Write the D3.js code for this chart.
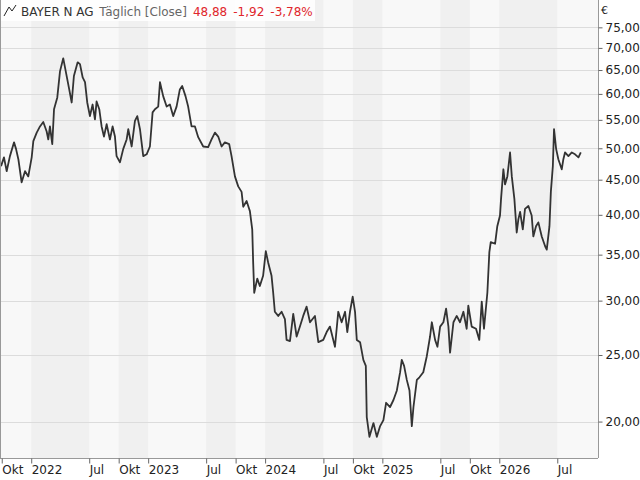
<!DOCTYPE html>
<html><head><meta charset="utf-8">
<script src="https://cdn.jsdelivr.net/npm/d3@7"></script>
<style>body{margin:0;background:#fff}svg{display:block}text{font-family:"DejaVu Sans",sans-serif}</style>
</head><body><svg id="c" width="640" height="480"></svg>
<script>
// time as decimal year
const times = [2021.742,2021.767,2021.790,2021.818,2021.853,2021.870,2021.890,2021.918,2021.947,2021.975,2022.004,2022.018,2022.047,2022.075,2022.103,2022.132,2022.146,2022.160,2022.180,2022.195,2022.223,2022.246,2022.274,2022.297,2022.325,2022.346,2022.365,2022.397,2022.417,2022.440,2022.460,2022.479,2022.502,2022.525,2022.545,2022.559,2022.582,2022.602,2022.622,2022.645,2022.673,2022.696,2022.716,2022.730,2022.759,2022.787,2022.816,2022.830,2022.859,2022.887,2022.907,2022.930,2022.958,2022.987,2023.015,2023.038,2023.058,2023.086,2023.101,2023.129,2023.158,2023.186,2023.214,2023.243,2023.271,2023.291,2023.320,2023.342,2023.371,2023.400,2023.428,2023.471,2023.513,2023.542,2023.571,2023.599,2023.628,2023.656,2023.693,2023.713,2023.742,2023.770,2023.799,2023.813,2023.842,2023.864,2023.870,2023.890,2023.898,2023.907,2023.933,2023.955,2023.983,2024.006,2024.026,2024.055,2024.069,2024.083,2024.112,2024.141,2024.169,2024.183,2024.212,2024.240,2024.269,2024.297,2024.325,2024.354,2024.383,2024.425,2024.454,2024.496,2024.525,2024.553,2024.596,2024.624,2024.653,2024.682,2024.701,2024.724,2024.747,2024.767,2024.782,2024.810,2024.838,2024.859,2024.867,2024.890,2024.924,2024.953,2024.981,2025.009,2025.032,2025.066,2025.095,2025.124,2025.152,2025.166,2025.186,2025.209,2025.232,2025.252,2025.266,2025.295,2025.317,2025.350,2025.380,2025.408,2025.423,2025.451,2025.471,2025.494,2025.522,2025.545,2025.565,2025.579,2025.608,2025.636,2025.664,2025.693,2025.721,2025.735,2025.764,2025.801,2025.829,2025.850,2025.869,2025.898,2025.915,2025.927,2025.964,2025.983,2026.006,2026.015,2026.035,2026.049,2026.069,2026.092,2026.107,2026.129,2026.149,2026.163,2026.178,2026.201,2026.220,2026.249,2026.277,2026.291,2026.314,2026.334,2026.363,2026.392,2026.406,2026.429,2026.441,2026.458,2026.468,2026.486,2026.505,2026.534,2026.548,2026.562,2026.591,2026.620,2026.648,2026.677,2026.697];
const closes = [47.1,48.5,46.3,48.7,51.0,49.9,48.2,44.6,46.3,45.5,48.5,51.2,52.7,53.8,54.6,52.9,51.5,53.8,50.7,57.0,59.3,64.7,67.6,64.5,60.9,58.3,63.7,66.7,66.3,63.4,62.4,58.3,55.7,57.9,55.1,58.5,57.0,53.8,52.0,54.2,51.5,53.8,52.0,48.7,47.7,49.9,51.5,53.3,50.3,54.8,55.7,53.3,48.7,49.0,50.3,56.4,57.0,57.5,62.4,59.5,57.5,57.9,55.7,57.5,60.9,61.6,59.5,57.5,53.8,53.8,51.9,50.3,50.2,51.5,52.7,52.0,50.3,51.0,50.7,48.7,45.5,44.0,43.2,41.1,41.9,40.8,40.5,38.1,34.1,30.8,32.3,31.5,32.6,35.4,34.1,32.6,30.8,28.9,28.5,28.9,28.2,26.3,26.2,28.7,26.6,27.5,28.5,29.4,27.9,28.5,26.1,26.3,27.0,27.5,25.7,28.9,27.9,28.9,27.0,28.9,30.4,28.9,26.3,26.1,24.6,24.1,20.3,19.0,19.9,19.0,19.7,20.1,21.3,21.0,21.5,22.2,23.6,24.6,24.1,23.0,22.2,19.7,21.0,23.0,23.2,23.6,24.9,26.6,27.9,26.3,25.7,27.5,27.9,29.2,27.5,25.2,27.9,28.5,27.9,28.9,27.3,29.5,27.5,27.3,26.3,29.9,27.3,30.8,35.3,36.5,36.3,38.5,39.9,42.2,46.6,44.3,45.5,49.3,45.5,42.2,37.7,39.4,40.4,38.1,40.8,41.2,39.9,37.2,38.5,39.0,37.2,36.0,35.6,38.5,43.2,47.1,53.3,49.9,48.2,46.6,48.2,49.3,48.7,49.3,49.0,48.5,49.3];
const yTicks = [20,25,30,35,40,45,50,55,60,65,70,75];
const xTickDates = ["2021-10-01","2022-01-01","2022-07-01","2022-10-01","2023-01-01","2023-07-01","2023-10-01","2024-01-01","2024-07-01","2024-10-01","2025-01-01","2025-07-01","2025-10-01","2026-01-01","2026-07-01"];
const xTickLabels = ["Okt","2022","Jul","Okt","2023","Jul","Okt","2024","Jul","Okt","2025","Jul","Okt","2026","Jul"];
const bandStarts = ["2022-01-01","2022-10-01","2023-07-01","2024-01-01","2024-10-01","2025-07-01","2026-01-01"];
const bandEnds   = ["2022-07-01","2023-01-01","2023-10-01","2024-07-01","2025-01-01","2025-10-01","2026-07-01"];
const title = {name:"BAYER N AG", kind:"Täglich [Close]", last:"48,88", chg:"-1,92", pct:"-3,78%"};

function toDate(t){const y=Math.floor(t);const s=new Date(Date.UTC(y,0,1)),e=new Date(Date.UTC(y+1,0,1));return new Date(s.getTime()+(t-y)*(e-s));}
const parse = d3.utcParse("%Y-%m-%d");
const data = times.map((t,i)=>({d:toDate(t),v:closes[i]}));

const W=598,H=458;
const svg=d3.select("#c");
const x=d3.scaleUtc().domain([toDate(2021.733),toDate(2021.733+598/117)]).range([0,W]);
const y=d3.scaleLog().domain([17.7,82.2]).range([H,0]);

svg.append("rect").attr("x",0).attr("y",0).attr("width",W).attr("height",H).attr("fill","#f8f8f8");
svg.selectAll(".band").data(bandStarts).enter().append("rect")
  .attr("x",d=>x(parse(d))).attr("width",(d,i)=>x(parse(bandEnds[i]))-x(parse(d)))
  .attr("y",0).attr("height",H).attr("fill","#f0f0f0");
svg.selectAll(".g").data(yTicks).enter().append("line")
  .attr("x1",0).attr("x2",W).attr("y1",d=>Math.round(y(d))+0.5).attr("y2",d=>Math.round(y(d))+0.5)
  .attr("stroke","#dcdcdc");

svg.append("path").datum(data)
  .attr("d",d3.line().x(d=>x(d.d)).y(d=>y(d.v)))
  .attr("fill","none").attr("stroke","#333").attr("stroke-width",1.8).attr("stroke-linejoin","round");

// frame
svg.append("line").attr("x1",0.5).attr("x2",0.5).attr("y1",0).attr("y2",H).attr("stroke","#999");
svg.append("line").attr("x1",W+0.5).attr("x2",W+0.5).attr("y1",0).attr("y2",H).attr("stroke","#999");
svg.append("line").attr("x1",0).attr("x2",W).attr("y1",H+0.5).attr("y2",H+0.5).attr("stroke","#999");

// y axis
const ya=svg.append("g").attr("transform",`translate(${W+0.5},0)`)
  .call(d3.axisRight(y).tickValues(yTicks).tickSize(4).tickPadding(3).tickFormat(d=>d3.format(".2f")(d).replace(".",",")));
ya.select(".domain").remove();
ya.selectAll("line").attr("stroke","#666");
ya.selectAll("text").attr("font-size",12).attr("fill","#222").attr("font-family","DejaVu Sans");
svg.append("text").attr("x",W+3).attr("y",14).attr("font-size",11).attr("fill","#222").text("€");

// x axis
const xa=svg.append("g").attr("transform",`translate(0,${H+0.5})`)
  .call(d3.axisBottom(x).tickValues(xTickDates.map(parse)).tickSize(5).tickFormat((d,i)=>xTickLabels[i]));
xa.select(".domain").remove();
xa.selectAll("line").attr("stroke","#666");
xa.selectAll("text").attr("font-size",12).attr("fill","#222").attr("font-family","DejaVu Sans")
  .attr("text-anchor","start").attr("dx",0).attr("x",0).attr("y",7).attr("dy","0.71em");

// header
svg.append("rect").attr("x",1).attr("y",0).attr("width",314).attr("height",21).attr("fill","#fff").attr("opacity",0.85);
svg.append("path").attr("d","M4,16 L9,7 L12,11 L16,5").attr("fill","none").attr("stroke","#222").attr("stroke-width",1);
const t=svg.append("text").attr("x",21).attr("y",16).attr("font-size",12).attr("font-family","Liberation Sans, Arial, sans-serif");
t.append("tspan").attr("fill","#333").text(title.name);
t.append("tspan").attr("fill","#666").attr("dx",6).text(title.kind);
t.append("tspan").attr("fill","#e0262b").attr("dx",6).text(title.last);
t.append("tspan").attr("fill","#e0262b").attr("dx",6).text(title.chg);
t.append("tspan").attr("fill","#e0262b").attr("dx",6).text(title.pct);
</script></body></html>
